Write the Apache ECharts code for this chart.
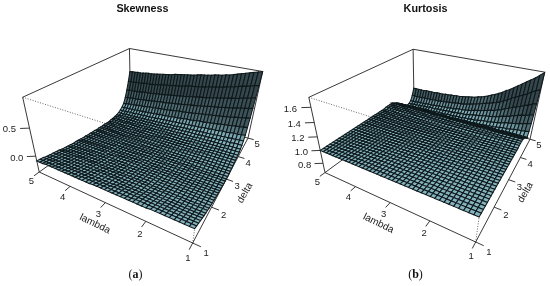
<!DOCTYPE html>
<html>
<head>
<meta charset="utf-8">
<style>html,body{margin:0;padding:0;background:#fff}#main{width:550px;height:286px}</style>
<script src="https://cdn.jsdelivr.net/npm/echarts@6/dist/echarts.min.js"></script>
</head>
<body>
<div id="main"></div>
<script>
var lambdaTicks = [1, 2, 3, 4, 5];
var deltaTicks = [1, 2, 3, 4, 5];
var skewTicks = [0, 0.5];
var kurtTicks = [0.8, 1, 1.2, 1.4, 1.6];

// runs([v,n,v,n...]) just spells out repeated read values
function runs(r) {
  var out = [];
  for (var k = 0; k < r.length; k += 2) for (var n = 0; n < r[k + 1]; n++) out.push(r[k]);
  return out;
}

// surface heights x100, one row per delta 1.0..5.0 (step 0.1), one column per lambda 1.0..5.0
var skewRows = [
  runs([-6,10,-7,14,-8,14,-9,3]),
  runs([-8,14,-9,14,-10,13]),
  runs([-10,20,-11,21]),
  runs([-12,20,-13,21]),
  runs([-14,41]),
  runs([-16,20,-15,21]),
  runs([-18,14,-17,14,-16,13]),
  runs([-19,14,-18,14,-17,13]),
  runs([-21,14,-20,14,-19,13]),
  runs([-22,14,-21,14,-20,13]),
  runs([-23,14,-22,14,-21,13]),
  runs([-24,14,-23,14,-22,13]),
  runs([-25,14,-24,14,-23,13]),
  runs([-26,10,-25,10,-24,10,-23,11]),
  runs([-27,10,-26,10,-25,10,-24,11]),
  runs([-28,10,-27,10,-26,10,-25,11]),
  runs([-29,8,-28,11,-27,11,-26,11]),
  runs([-29,10,-28,10,-27,10,-26,11]),
  runs([-30,8,-29,11,-28,11,-27,11]),
  runs([-30,10,-29,10,-28,10,-27,11]),
  runs([-31,8,-30,11,-29,11,-28,11]),
  runs([-31,10,-30,10,-29,10,-28,11]),
  runs([-30,25,-29,16]),
  runs([-30,20,-29,21]),
  runs([-29,20,-30,21]),
  runs([-28,14,-29,14,-30,13]),
  runs([-27,10,-28,10,-29,10,-30,11]),
  runs([-26,8,-27,8,-28,8,-29,8,-30,8,-31,1]),
  runs([-25,7,-26,7,-27,7,-28,7,-29,6,-30,6,-31,1]),
  runs([-24,7,-25,7,-26,7,-27,7,-28,7,-29,5,-30,1]),
  runs([-22,5,-23,5,-24,5,-25,5,-26,5,-27,5,-28,5,-29,5,-30,1]),
  runs([-20,4,-21,5,-22,4,-23,5,-24,4,-25,5,-26,4,-27,5,-28,4,-29,1]),
  [-16,-16,-16,-17,-17,-17,-18,-18,-18,-19,-19,-19,-20,-20,-20,-20,-21,-21,-21,-22,-22,-22,-23,-23,-23,-24,-24,-24,-24,-25,-25,-25,-26,-26,-26,-26,-27,-27,-27,-28,-28],
  [-11,-11,-12,-12,-13,-13,-14,-14,-15,-15,-16,-16,-16,-17,-17,-18,-18,-18,-19,-19,-20,-20,-20,-21,-21,-22,-22,-22,-23,-23,-23,-24,-24,-24,-25,-25,-25,-25,-26,-26,-26],
  [-3,-4,-5,-5,-6,-7,-7,-8,-9,-9,-10,-10,-11,-12,-12,-13,-13,-14,-14,-15,-15,-16,-16,-17,-17,-18,-18,-19,-19,-20,-20,-20,-21,-21,-21,-22,-22,-22,-23,-23,-23],
  [9,8,7,6,5,4,3,2,1,0,-1,-2,-3,-3,-4,-5,-6,-6,-7,-8,-9,-9,-10,-11,-11,-12,-12,-13,-14,-14,-15,-15,-16,-16,-17,-17,-18,-18,-18,-19,-19],
  [24,23,21,20,19,17,16,15,14,13,12,11,10,9,8,7,6,5,4,3,3,2,1,0,-1,-2,-2,-3,-4,-5,-5,-6,-7,-8,-8,-9,-10,-11,-11,-12,-13],
  [40,38,37,35,34,32,31,30,28,27,26,25,24,22,21,20,19,18,17,16,15,14,13,12,11,10,9,9,8,7,6,5,4,4,3,2,1,1,0,-1,-2],
  [57,55,53,52,50,48,47,45,44,42,41,40,38,37,36,35,34,33,31,30,29,28,27,26,25,24,23,22,21,21,20,19,18,18,17,16,15,15,14,14,13],
  [77,75,73,71,70,68,66,64,63,61,60,58,57,56,54,53,52,51,50,49,48,46,45,44,43,42,41,40,39,38,37,36,35,35,34,33,32,32,31,31,30],
  [99,97,95,93,91,89,87,85,83,82,80,79,78,76,75,74,73,72,70,69,68,67,66,65,64,62,61,60,59,58,57,56,55,55,54,53,52,52,51,51,50]
];

var kurtRows = [
  runs([100,41]), runs([100,41]), runs([100,41]), runs([100,41]), runs([100,41]),
  runs([100,41]), runs([100,41]), runs([100,41]), runs([100,41]), runs([100,41]),
  runs([100,41]), runs([100,41]), runs([100,41]), runs([100,41]), runs([100,41]),
  runs([100,41]), runs([100,41]), runs([100,41]), runs([100,41]), runs([100,41]),
  runs([100,41]), runs([100,41]), runs([100,41]), runs([100,41]), runs([100,41]),
  runs([101,41]), runs([101,41]), runs([101,41]), runs([101,41]),
  runs([99,41]),
  runs([97,41]),
  runs([95,20,94,21]),
  runs([92,15,91,26]),
  runs([88,10,87,14,86,17]),
  runs([86,8,85,10,84,10,83,13]),
  [93,92,91,91,90,89,88,88,87,86,85,85,84,84,83,83,83,82,82,82,81,81,81,81,81,81,81,81,81,81,80,80,80,80,80,80,80,80,80,80,80],
  [103,102,100,99,97,96,95,94,92,91,90,89,88,88,87,86,85,85,84,84,83,83,83,82,82,82,81,81,81,81,80,80,80,80,80,80,79,79,79,79,79],
  [115,113,111,110,108,106,104,102,101,99,97,96,95,94,93,92,91,90,89,88,87,87,86,86,85,85,85,84,84,84,83,83,83,82,82,82,81,81,81,80,80],
  [130,128,125,123,120,118,116,113,111,108,106,104,103,101,100,98,97,96,94,93,92,91,91,90,89,89,88,88,87,87,86,86,85,85,85,84,84,84,83,83,83],
  [149,146,143,139,136,133,130,127,123,120,117,115,113,111,110,108,106,105,103,102,100,99,98,98,97,96,96,95,94,94,93,93,93,92,92,92,92,91,91,91,91],
  [172,167,162,158,154,150,146,142,138,135,131,128,125,123,120,118,116,115,113,112,111,110,109,108,108,107,107,106,106,105,105,105,104,104,104,104,103,103,103,103,103]
];

// camera of each persp box: front corner, vanishing points and their weights
var skewCam = { f: [192.7, 243], vd: [347.6, -51], vl: [-441, -50], vz: [140, 628], a: 0.555, b: 0.3196, c: -0.186, zMin: -0.31, zMax: 0.99 };
var kurtCam = { f: [475.7, 242], vd: [630.6, -51], vl: [-158, -50], vz: [423, 628], a: 0.54, b: 0.312, c: -0.186, zMin: 0.648, zMax: 1.725 };

function project(cam, u, v, w) {
  var du = cam.a * u, dv = cam.b * v, dw = cam.c * w;
  var den = 1 + du + dv + dw;
  return [
    (du * cam.vd[0] + dv * cam.vl[0] + dw * cam.vz[0] + cam.f[0]) / den,
    (du * cam.vd[1] + dv * cam.vl[1] + dw * cam.vz[1] + cam.f[1]) / den
  ];
}
function fracL(l) { return (l - 1) / 4; }
function fracD(d) { return (d - 1) / 4; }

var INK = '#222';
var FONT = '"Liberation Sans", Arial, sans-serif';

function lineSeries(cam, edges, z) {
  return {
    type: 'custom', coordinateSystem: 'cartesian2d', silent: true, clip: false, progressive: 0, z: z,
    data: edges.map(function (e, i) { return [i, 0]; }),
    renderItem: function (params, api) {
      var e = edges[params.dataIndex];
      var p = api.coord(project(cam, e[0], e[1], e[2]));
      var q = api.coord(project(cam, e[3], e[4], e[5]));
      return {
        type: 'line',
        shape: { x1: p[0], y1: p[1], x2: q[0], y2: q[1] },
        style: { stroke: INK, lineWidth: e[6] ? 0.7 : 0.9, lineDash: e[6] ? [1, 1.6] : null, fill: null }
      };
    }
  };
}

function surfaceSeries(cam, rows, z) {
  var cells = [];
  for (var i = rows.length - 2; i >= 0; i--)
    for (var j = rows[0].length - 2; j >= 0; j--) cells.push([i, j]);
  var range = cam.zMax - cam.zMin;
  function wAt(i, j) { return (rows[i][j] / 100 - cam.zMin) / range; }
  return {
    type: 'custom', coordinateSystem: 'cartesian2d', silent: true, clip: false, progressive: 0, z: z,
    data: cells,
    renderItem: function (params, api) {
      var c = cells[params.dataIndex], i = c[0], j = c[1];
      var nu = rows.length - 1, nv = rows[0].length - 1;
      var corners = [[i, j], [i + 1, j], [i + 1, j + 1], [i, j + 1]].map(function (k) {
        return api.coord(project(cam, k[0] / nu, k[1] / nv, wAt(k[0], k[1])));
      });
      var du = (wAt(i + 1, j) + wAt(i + 1, j + 1) - wAt(i, j) - wAt(i, j + 1)) / 2 * nu;
      var dv = (wAt(i, j + 1) + wAt(i + 1, j + 1) - wAt(i, j) - wAt(i + 1, j)) / 2 * nv;
      // flat cells keep one tone, only the steep part goes darker
      var slope = Math.max(0, Math.sqrt(du * du + dv * dv) - 1.5);
      var s = Math.max(0.4, 1 / Math.sqrt(1 + slope * slope / 3));
      return {
        type: 'polygon',
        shape: { points: corners },
        style: {
          fill: 'rgb(' + Math.round(132 * s) + ',' + Math.round(178 * s) + ',' + Math.round(189 * s) + ')',
          stroke: '#0e181b', lineWidth: 1.05
        }
      };
    }
  };
}

function labelSeries(cam, labels, z) {
  return {
    type: 'custom', coordinateSystem: 'cartesian2d', silent: true, clip: false, progressive: 0, z: z,
    data: labels.map(function (l, i) { return [i, 0]; }),
    renderItem: function (params, api) {
      var l = labels[params.dataIndex];
      var p = api.coord(project(cam, l.u, l.v, l.w));
      return {
        type: 'text',
        style: { text: l.text, x: p[0] + l.dx, y: p[1] + l.dy, fill: INK, font: '9.5px ' + FONT, align: 'center', verticalAlign: 'middle' }
      };
    }
  };
}

function panelSeries(cam, rows, zTicks, zDigits) {
  var range = cam.zMax - cam.zMin;
  var box = [
    [0, 1, 1, 1, 1, 1], [1, 1, 1, 1, 0, 1], [0, 1, 1, 0, 1, 0], [1, 0, 1, 1, 0, 0], [1, 1, 1, 1, 1, 0],
    [0, 1, 0, 1, 1, 0], [1, 1, 0, 1, 0, 0],
    [0, 1, 1, 0, 0, 1, 1], [0, 0, 1, 1, 0, 1, 1], [0, 0, 1, 0, 0, 0, 1]
  ];
  var axes = [[0, 1, 0, 0, 0, 0], [0, 0, 0, 1, 0, 0]];
  var labels = [];
  lambdaTicks.forEach(function (l) {
    var v = fracL(l);
    axes.push([0, v, 0, -0.04, v, 0]);
    labels.push({ text: String(l), u: -0.07, v: v, w: 0, dx: 1.5, dy: 3 });
  });
  deltaTicks.forEach(function (d) {
    var u = fracD(d);
    axes.push([u, 0, 0, u, -0.04, 0]);
    labels.push({ text: String(d), u: u, v: -0.07, w: 0, dx: -1, dy: 3.5 });
  });
  zTicks.forEach(function (t) {
    var w = (t - cam.zMin) / range;
    axes.push([0, 1, w, -0.028, 1.042, w]);
    labels.push({ text: t.toFixed(zDigits), u: -0.06, v: 1.09, w: w, dx: 0, dy: 1 });
  });
  return [
    lineSeries(cam, box, 1),
    surfaceSeries(cam, rows, 2),
    lineSeries(cam, axes, 3),
    labelSeries(cam, labels, 4)
  ];
}

function nameText(text, x, y, rot) {
  return { type: 'text', x: x, y: y, rotation: rot, silent: true,
    style: { text: text, fill: INK, font: '10px ' + FONT, align: 'center', verticalAlign: 'middle' } };
}
function titleText(text, x) {
  return { type: 'text', x: x, y: 9, silent: true,
    style: { text: text, fill: '#111', font: 'bold 10.8px ' + FONT, align: 'center', verticalAlign: 'middle' } };
}
function captionText(letter, x) {
  return { type: 'text', x: x, y: 275, silent: true,
    style: {
      text: '{p|(}{b|' + letter + '}{p|)}', align: 'center', verticalAlign: 'middle',
      rich: {
        p: { font: '12px "Liberation Serif", serif', fill: '#111' },
        b: { font: 'bold 12px "Liberation Serif", serif', fill: '#111' }
      }
    } };
}

var myChart = echarts.init(document.getElementById('main'));
myChart.setOption({
  animation: false,
  backgroundColor: '#fff',
  grid: { left: 0, top: 0, right: 0, bottom: 0 },
  xAxis: { type: 'value', min: 0, max: 550, show: false },
  yAxis: { type: 'value', min: 0, max: 286, inverse: true, show: false },
  graphic: [
    titleText('Skewness', 142.5),
    titleText('Kurtosis', 425.5),
    nameText('lambda', 95, 224, -0.45),
    nameText('delta', 245, 193, 1.05),
    nameText('lambda', 378.5, 223.5, -0.45),
    nameText('delta', 525.5, 192.5, 1.05),
    captionText('a', 135.5),
    captionText('b', 415.5)
  ],
  series: panelSeries(skewCam, skewRows, skewTicks, 1).concat(panelSeries(kurtCam, kurtRows, kurtTicks, 1))
});
</script>
</body>
</html>
